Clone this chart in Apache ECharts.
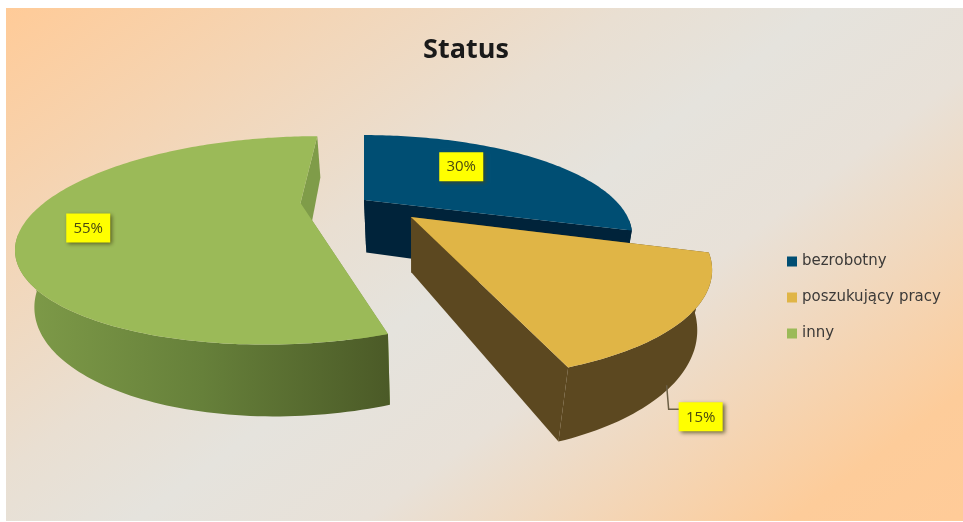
<!DOCTYPE html>
<html>
<head>
<meta charset="utf-8">
<title>Status</title>
<script src="https://cdn.jsdelivr.net/npm/echarts@6/dist/echarts.min.js"></script>
<style>
  html, body { margin: 0; padding: 0; background: #fff; }
  #chart { width: 963px; height: 522px; }
</style>
</head>
<body>
<div id="chart"></div>
<script>
// chart data
const categories = ['bezrobotny', 'poszukujący pracy', 'inny'];
const values = [30, 15, 55];

// look of each slice
const topColors = ['#004e73', '#e0b546', '#9bba58'];
const cutColors = ['#00233a', '#5c4820', '#7f9c49'];
const wallColors = [
    '#00233a',
    '#5c4820',
    {type: 'linear', x: 0, y: 0, x2: 1, y2: 0, colorStops: [
        {offset: 0, color: '#7f9c49'},
        {offset: 0.5, color: '#66803a'},
        {offset: 1, color: '#4b5a27'}
    ]}
];

// where each exploded slice sits on the floor of the scene, in pie radii
const offsetX = [0, 0.175, -0.25];
const offsetY = [0, -0.182, -0.034];
const sliceRadius = [1, 1.01, 1.01];
// label spot, clockwise angle from north and distance from the slice apex
const labelAngle = [46, 154.6, 250.8];
const labelRadius = [0.62, 1.265, 0.78];

// camera: vanishing point of the floor, and of the verticals
const vanishX = 364, vanishY = -50;
const scaleX = 251, scaleY = 250;
const perspective = 0.351;
const nadirX = 420, nadirY = 1500;
const thickness = 0.042;

function project(x, y, z) {
    let d = 1 + perspective * y;
    let xh = vanishX * d + scaleX * x;
    let yh = vanishY * d + scaleY;
    let q = z * thickness;
    return [(xh + q * nadirX) / (d + q), (yh + q * nadirY) / (d + q)];
}

function renderSlice(index) {
    return function (params, api) {
        let value = api.value(0);
        let total = values.reduce((a, b) => a + b, 0);
        let before = values.slice(0, index).reduce((a, b) => a + b, 0);
        let start = before / total * Math.PI * 2;
        let end = (before + value) / total * Math.PI * 2;
        let ox = offsetX[index], oy = offsetY[index], r = sliceRadius[index];

        let rim = [];
        let front = [];
        let steps = Math.ceil((end - start) / 0.02);
        for (let i = 0; i <= steps; i++) {
            let a = start + (end - start) * i / steps;
            let p = [ox + r * Math.sin(a), oy + r * Math.cos(a)];
            rim.push(p);
            // skip the back of the outer wall, a little past the tangent is fine,
            // the top face paints over that bit
            let toCamera = -p[0] * Math.sin(a) + (-1 / perspective - p[1]) * Math.cos(a);
            if (toCamera > -0.4) front.push(p);
        }
        let topRim = rim.map(p => project(p[0], p[1], 0));
        let apexTop = project(ox, oy, 0);
        let apexLow = project(ox, oy, 1);

        let poly = (points, fill) => ({
            type: 'polygon',
            shape: {points: points},
            style: {fill: fill}
        });

        let children = [
            poly([apexTop, topRim[0], project(rim[0][0], rim[0][1], 1), apexLow], cutColors[index]),
            poly([apexTop, topRim[steps], project(rim[steps][0], rim[steps][1], 1), apexLow], cutColors[index])
        ];
        if (front.length > 1) {
            let wallTop = front.map(p => project(p[0], p[1], 0));
            let wallLow = front.map(p => project(p[0], p[1], 1)).reverse();
            children.push(poly(wallTop.concat(wallLow), wallColors[index]));
        }
        children.push(poly([apexTop].concat(topRim), topColors[index]));

        // data label box
        let la = labelAngle[index] * Math.PI / 180;
        let c = project(ox + labelRadius[index] * Math.sin(la), oy + labelRadius[index] * Math.cos(la), 0);
        if (index === 1) {
            children.push({
                type: 'polyline',
                shape: {points: [[c[0] - 34, c[1] - 32], [c[0] - 32, c[1] - 8], [c[0] - 20, c[1] - 8]]},
                style: {stroke: '#6b5f45', lineWidth: 1.5, fill: null}
            });
        }
        children.push({
            type: 'rect',
            shape: {x: c[0] - 22, y: c[1] - 15, width: 44, height: 29},
            style: {fill: '#ffff00', shadowColor: 'rgba(70,70,20,0.75)', shadowBlur: 4, shadowOffsetX: 2, shadowOffsetY: 2}
        });
        children.push({
            type: 'text',
            style: {
                x: c[0], y: c[1],
                text: Math.round(value / total * 100) + '%',
                fill: '#4a4a10',
                font: '15px "Open Sans"',
                align: 'center',
                verticalAlign: 'middle'
            }
        });
        return {type: 'group', children: children};
    };
}

var chart = echarts.init(document.getElementById('chart'), null, {renderer: 'canvas'});

var option = {
    animation: false,
    title: {
        text: 'Status',
        left: 461,
        top: 32,
        textAlign: 'center',
        textStyle: {fontFamily: 'Open Sans', fontWeight: 'bold', fontSize: 27, color: '#1a1a1a'}
    },
    legend: {
        orient: 'vertical',
        left: 782,
        top: 249,
        itemWidth: 10,
        itemHeight: 10,
        itemGap: 21,
        icon: 'rect',
        data: categories,
        textStyle: {fontFamily: 'DejaVu Sans', fontSize: 15, color: '#3c3a38'}
    },
    graphic: [{
        type: 'rect',
        z: -1,
        silent: true,
        shape: {x: 6, y: 8, width: 957, height: 513},
        style: {
            fill: {
                type: 'linear', x: 6, y: 8, x2: 589, y2: 792, global: true,
                colorStops: [
                    {offset: 0, color: '#ffcb98'},
                    {offset: 0.38, color: '#e9dfd2'},
                    {offset: 0.5, color: '#e5e3dd'},
                    {offset: 0.64, color: '#e8e1d8'},
                    {offset: 0.9, color: '#fdcc9a'},
                    {offset: 1, color: '#ffcb98'}
                ]
            }
        }
    }],
    series: categories.map((name, i) => ({
        type: 'custom',
        name: name,
        coordinateSystem: 'none',
        silent: true,
        itemStyle: {color: topColors[i]},
        renderItem: renderSlice(i),
        data: [[values[i]]],
        // blue goes first, the yellow slice sits in front of it
        z: [2, 4, 3][i]
    }))
};

chart.setOption(option);
</script>
</body>
</html>
